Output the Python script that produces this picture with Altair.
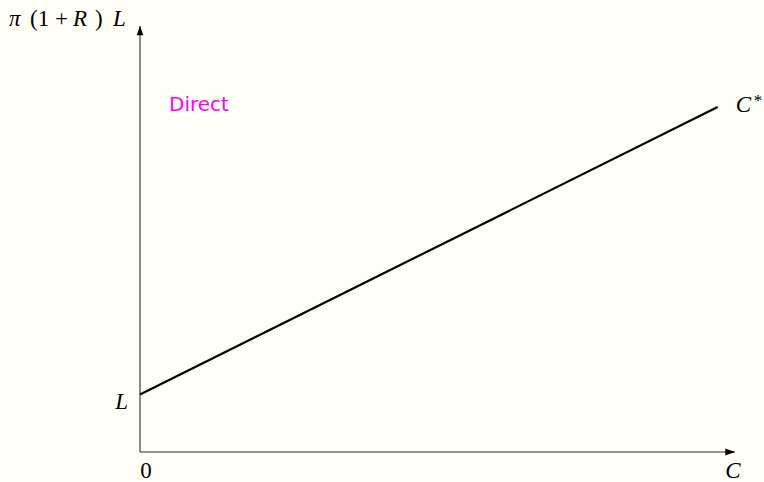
import altair as alt
import pandas as pd

# Expected repayment under direct lending, as a function of collateral C
collateral = [0.0, 1.0]   # from 0 up to C*
repayment = [1.0, 6.0]    # starts at L and rises to pi(1+R)L at C*

# axis extents (data units)
x_max = 1.03
y_max = 7.41

BG = "#fffff8"
AXIS_GREY = "#6e6e6e"
SERIF = "Liberation Serif"
SANS = "DejaVu Sans"
SIZE = 23

xs = alt.Scale(domain=[0, x_max], nice=False, zero=False)
ys = alt.Scale(domain=[0, y_max], nice=False, zero=False)


def xy(xf="x", yf="y"):
    return dict(
        x=alt.X(f"{xf}:Q", scale=xs, axis=None),
        y=alt.Y(f"{yf}:Q", scale=ys, axis=None),
    )


# axis lines
axes_df = pd.DataFrame({"x": [0, 0], "y": [0, 0], "x2": [x_max, 0], "y2": [0, y_max]})
axes = alt.Chart(axes_df).mark_rule(color=AXIS_GREY, strokeWidth=1.6).encode(
    **xy(), x2="x2:Q", y2="y2:Q"
)

# arrow heads at the ends of the axes
right_arrow = alt.Chart(pd.DataFrame({"x": [x_max], "y": [0]})).mark_point(
    shape="M0,0L-1,-0.36L-1,0.36Z", size=380, filled=True, color="black",
    opacity=1, strokeWidth=0,
).encode(**xy())
up_arrow = alt.Chart(pd.DataFrame({"x": [0], "y": [y_max]})).mark_point(
    shape="M0,0L-0.36,1L0.36,1Z", size=340, filled=True, color="black",
    opacity=1, strokeWidth=0,
).encode(**xy())

# the repayment line
line = alt.Chart(pd.DataFrame({"x": collateral, "y": repayment})).mark_line(
    color="black", strokeWidth=2.2
).encode(**xy())


def label(text, x, y, dx=0, dy=0, italic=True, font=SERIF, size=SIZE,
          color="black", align="left"):
    df = pd.DataFrame({"x": [x], "y": [y], "t": [text]})
    kw = dict(font=font, fontSize=size, color=color, align=align,
              baseline="alphabetic", dx=dx, dy=dy)
    if italic:
        kw["fontStyle"] = "italic"
    return alt.Chart(df).mark_text(**kw).encode(**xy(), text="t:N")


labels = [
    # pi (1 + R) L above the vertical axis
    label("π", 0, y_max, dx=-131, dy=0),
    label("(1", 0, y_max, dx=-110, dy=0, italic=False),
    label("+", 0, y_max, dx=-85, dy=0, italic=False),
    label("R", 0, y_max, dx=-67, dy=0),
    label(")", 0, y_max, dx=-45, dy=0, italic=False),
    label("L", 0, y_max, dx=-27, dy=0),
    # intercept and origin
    label("L", 0, repayment[0], dx=-12, dy=14, align="right"),
    label("0", 0, 0, dx=6, dy=26, italic=False, align="center"),
    # horizontal axis name
    label("C", x_max, 0, dx=-2, dy=26, align="center"),
    # end of the line
    label("C", collateral[-1], repayment[-1], dx=18, dy=5),
    label("*", collateral[-1], repayment[-1], dx=36, dy=-1, italic=False, size=17),
    # regime name
    label("Direct", 0, repayment[-1], dx=29, dy=4, italic=False, font=SANS,
          size=20, color="#ff00ff"),
]

chart = alt.layer(axes, line, right_arrow, up_arrow, *labels).properties(
    width=595,
    height=426,
    autosize=alt.AutoSizeParams(type="none"),
    padding={"left": 140, "top": 26, "right": 29, "bottom": 30},
    background=BG,
).configure_view(stroke=None)

chart.save("out.html", embed_options={"renderer": "svg", "actions": False})
